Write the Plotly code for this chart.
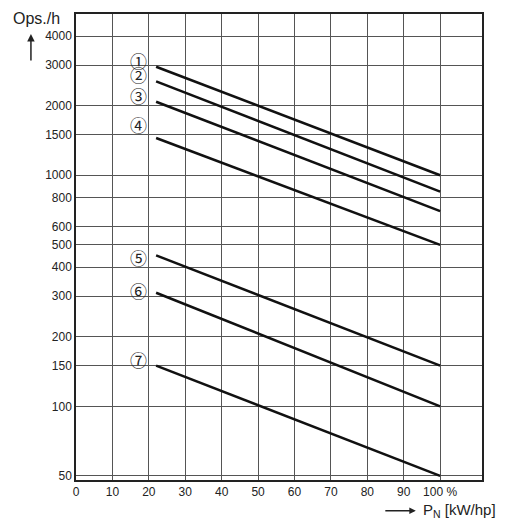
import math
import plotly.graph_objects as go

# power share in % (start and end of each curve)
x_pts = [22, 100]

# operations per hour, curves 1..7
curve_labels = ["①", "②", "③", "④", "⑤", "⑥", "⑦"]
ops_start = [2950, 2550, 2080, 1450, 450, 310, 150]
ops_end = [1000, 850, 700, 500, 150, 100, 50]
label_y = [3150, 2720, 2220, 1660, 440, 318, 160]

y_ticks = [50, 100, 150, 200, 300, 400, 500, 600, 800, 1000, 1500, 2000, 3000, 4000]
x_ticks = [0, 10, 20, 30, 40, 50, 60, 70, 80, 90, 100]
x_tick_text = ["0", "10", "20", "30", "40", "50", "60", "70", "80", "90", "100 %"]

fig = go.Figure()

for name, y0, y1 in zip(curve_labels, ops_start, ops_end):
    fig.add_trace(go.Scatter(x=x_pts, y=[y0, y1], mode="lines",
                             line=dict(color="#111", width=2.5),
                             name=name, showlegend=False, hoverinfo="skip"))

# annotations on a log axis take log10 positions
for name, ly in zip(curve_labels, label_y):
    fig.add_annotation(x=17.3, y=math.log10(ly), xref="x", yref="y", text=name,
                       showarrow=False,
                       font=dict(size=17, color="#222", family="Noto Sans CJK JP"))

fig.update_xaxes(range=[0, 111.5], tickvals=x_ticks, ticktext=x_tick_text,
                 showgrid=True, gridcolor="#555", gridwidth=1.3,
                 showline=True, linecolor="#222", linewidth=1.5, mirror=True,
                 ticks="", zeroline=False,
                 tickfont=dict(size=12, color="#222"))
fig.update_yaxes(type="log", range=[1.681, 3.698], tickvals=y_ticks,
                 ticktext=[str(v) for v in y_ticks],
                 showgrid=True, gridcolor="#555", gridwidth=1.3,
                 showline=True, linecolor="#222", linewidth=1.5, mirror=True,
                 ticks="", zeroline=False,
                 tickfont=dict(size=12, color="#222"))

# axis titles with arrows
fig.add_annotation(xref="paper", yref="paper", x=-0.0985, y=0.991, text="Ops./h",
                   showarrow=False, xanchor="center", yanchor="middle",
                   font=dict(size=16, color="#222"))
fig.add_annotation(xref="paper", yref="paper", x=-0.111, y=0.957, ax=0, ay=28,
                   text="", showarrow=True,
                   arrowhead=2, arrowsize=1, arrowwidth=1.5, arrowcolor="#222")
fig.add_annotation(xref="paper", yref="paper", x=0.837, y=-0.066, ax=-32, ay=0,
                   text="", showarrow=True,
                   arrowhead=2, arrowsize=1, arrowwidth=1.3, arrowcolor="#222")
fig.add_annotation(xref="paper", yref="paper", x=0.850, y=-0.066, text="P<sub>N</sub> [kW/hp]",
                   showarrow=False, xanchor="left", yanchor="middle",
                   font=dict(size=15, color="#222"))

# page body adds an 8 px offset, so margins are shifted to compensate
fig.update_layout(width=510, height=523, margin=dict(l=68, r=36, t=4, b=51),
                  plot_bgcolor="white", paper_bgcolor="white",
                  font=dict(family="Liberation Sans, Arial, sans-serif"))

fig.write_html("out.html")
